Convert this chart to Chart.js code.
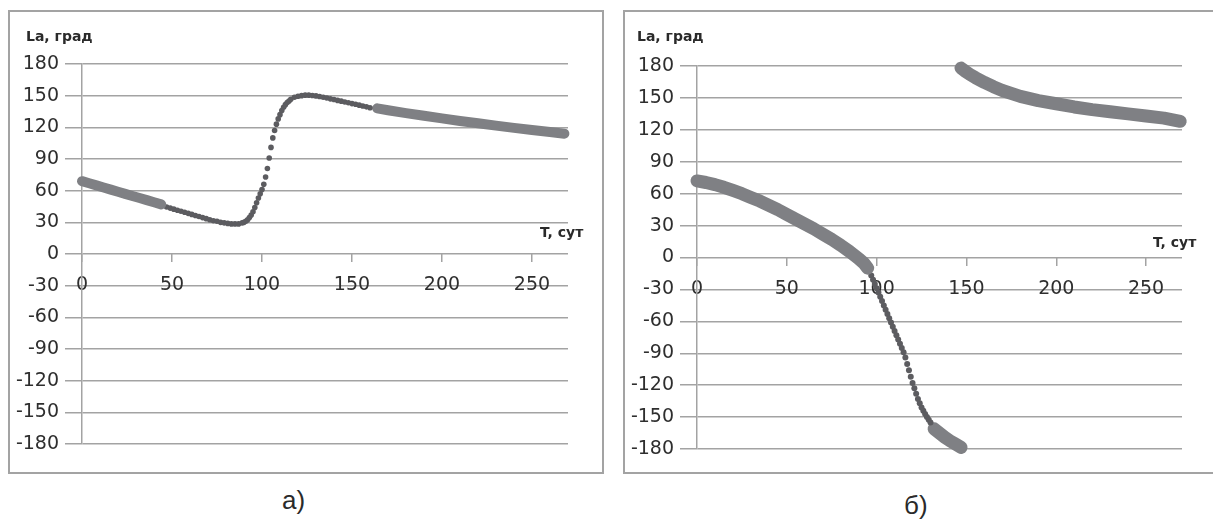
<!DOCTYPE html>
<html>
<head>
<meta charset="utf-8">
<script src="https://cdn.jsdelivr.net/npm/chart.js@4"></script>
<style>
    body { margin: 0; background: #fff; width: 1213px; height: 528px; position: relative; overflow: hidden; }
    .box { position: absolute; border: 2px solid #a3a3a3; box-sizing: border-box; }
    canvas { position: absolute; top: 0; }
    .lbl { position: absolute; font: bold 14px "DejaVu Sans", sans-serif; color: #2a2a2a; white-space: nowrap; }
    .cap { position: absolute; font: 26px "Liberation Sans", sans-serif; color: #2a2a2a; }
</style>
</head>
<body>
<div class="box" style="left:8px; top:10px; width:596px; height:464px;"></div>
<div class="box" style="left:623px; top:10px; width:700px; height:464px;"></div>
<canvas id="chart-a" width="606" height="480" style="left:0"></canvas>
<canvas id="chart-b" width="603" height="480" style="left:610px"></canvas>
<div class="lbl" style="left:26px; top:28px;">La, град</div>
<div class="lbl" style="left:540px; top:224px;">T, сут</div>
<div class="lbl" style="left:637px; top:28px;">La, град</div>
<div class="lbl" style="left:1153px; top:234px;">T, сут</div>
<div class="cap" style="left:282px; top:485px;">а)</div>
<div class="cap" style="left:904px; top:490px;">б)</div>
<script>
// Шкалы
const xTicks = [0, 50, 100, 150, 200, 250];
const yTicks = [-180, -150, -120, -90, -60, -30, 0, 30, 60, 90, 120, 150, 180];

// а) светлый участок в начале
const tA1 = [0, 4, 8, 12, 16, 20, 24, 28, 32, 36, 40, 44];
const laA1 = [69, 67, 65, 63, 61, 59, 57, 55, 53, 51, 49, 47];
// а) тёмный участок (точки)
const tA2 = [47, 49, 51, 53, 55, 57, 59, 61, 63, 65, 67, 69, 71, 73, 75, 77, 79, 81, 83, 85, 87, 89,
    90, 91, 92, 93, 94, 95, 96, 97, 98, 99, 100, 101, 102, 103, 104, 105, 106, 107, 108, 109, 110,
    111, 112, 113, 114, 115, 116, 118, 120, 122, 124, 126, 128, 130, 132, 134, 136, 138, 140, 142,
    144, 146, 148, 150, 152, 154, 156, 158, 160];
const laA2 = [44.5, 43.5, 42.5, 41.5, 40.5, 39.5, 38.5, 37.5, 36.5, 35.5, 34.5, 33.5, 32.5, 31.5, 31, 30, 29.5, 29, 28.5, 28.5, 28.5, 29.5,
    30, 31, 32.5, 34.5, 37, 40, 44, 48.5, 53, 57, 61, 66, 73, 81, 91, 101, 110, 117, 123, 128, 132,
    136, 139, 141.5, 143.5, 145, 146.5, 148.5, 149.5, 150, 150.5, 150.5, 150.2, 149.8, 149.2, 148.5, 147.8, 147, 146.3, 145.5,
    144.8, 144, 143.3, 142.5, 141.8, 141, 140.2, 139.4, 138.6];
// а) светлый участок в конце
const tA3 = [164, 170, 180, 190, 200, 210, 220, 230, 240, 250, 260, 268];
const laA3 = [138, 136.2, 133.5, 131, 128.5, 126, 123.8, 121.6, 119.5, 117.5, 115.5, 114];

// б) светлый участок в начале
const tB1 = [0, 5, 10, 15, 20, 25, 30, 35, 40, 45, 50, 55, 60, 65, 70, 75, 80, 85, 90, 93, 95];
const laB1 = [72, 70.5, 68.5, 66, 63, 60, 56.5, 53, 49, 45, 40.5, 36, 31.5, 27, 22, 17, 11.5, 5.5, -1, -5.5, -10];
// б) тёмный участок (точки)
const tB2 = [97, 98, 99, 100, 101, 102, 103, 104, 105, 106, 107, 108, 109, 110, 111, 112, 113,
    114, 115, 116, 117, 118, 119, 120, 121, 122, 123, 124, 125, 126, 127, 128, 129, 130];
const laB2 = [-17, -21, -25, -29, -33, -37, -41, -45, -49, -53, -57, -61, -65, -69, -73, -77, -81,
    -85, -89, -94, -100, -106, -112, -118, -123, -128, -133, -137, -141, -144, -147, -150, -152.5, -155];
// б) светлый участок у -180
const tB3 = [132, 135, 138, 141, 144, 147];
const laB3 = [-161, -165, -169, -172.5, -175.5, -178.5];
// б) верхняя ветвь
const tB4 = [147, 149, 152, 155, 160, 165, 170, 180, 190, 200, 210, 220, 230, 240, 250, 260, 269];
const laB4 = [178, 175.5, 172, 169, 164.5, 160.5, 157, 151.5, 147.5, 144.5, 141.5, 139, 137, 135, 133, 131, 128];

const light = '#7f8084';
const dark = '#5c5c60';
const gridColor = '#a3a3a3';

function pts(t, la) {
    return t.map((x, i) => ({ x: x, y: la[i] }));
}

function thick(t, la, w) {
    return {
        data: pts(t, la),
        showLine: true,
        borderColor: light,
        borderWidth: w,
        borderCapStyle: 'round',
        borderJoinStyle: 'round',
        pointRadius: 0,
        clip: false
    };
}

function dots(t, la, r) {
    return {
        data: pts(t, la),
        showLine: false,
        backgroundColor: dark,
        borderWidth: 0,
        pointRadius: r,
        clip: false
    };
}

function crearGrafica(id, datasets, yWidth, pad) {
    const ctx = document.getElementById(id).getContext('2d');
    return new Chart(ctx, {
        type: 'scatter',
        data: { datasets: datasets },
        options: {
            responsive: false,
            animation: false,
            layout: { padding: pad },
            plugins: { legend: { display: false }, tooltip: { enabled: false } },
            scales: {
                x: {
                    type: 'linear',
                    position: { y: 0 },
                    min: 0,
                    max: 270,
                    afterBuildTicks: s => { s.ticks = xTicks.map(v => ({ value: v })); },
                    afterFit: s => { s.height = 0; },
                    grid: { drawOnChartArea: false, color: gridColor, lineWidth: 1.5, tickLength: 8 },
                    border: { display: false },
                    ticks: {
                        color: '#2e2e2e',
                        font: { family: 'DejaVu Sans', size: 19 },
                        padding: 12,
                        maxRotation: 0
                    }
                },
                y: {
                    min: -180,
                    max: 180,
                    afterBuildTicks: s => { s.ticks = yTicks.map(v => ({ value: v })); },
                    afterFit: s => { s.width = yWidth; },
                    grid: { color: gridColor, lineWidth: 1.5, tickLength: 17 },
                    border: { color: gridColor, width: 1.5 },
                    ticks: {
                        color: '#2e2e2e',
                        font: { family: 'DejaVu Sans', size: 19 },
                        padding: 6
                    }
                }
            }
        }
    });
}

crearGrafica('chart-a', [
    thick(tA1, laA1, 10),
    dots(tA2, laA2, 2.8),
    thick(tA3, laA3, 10)
], 82, { left: 0, top: 64, right: 38, bottom: 36 });

crearGrafica('chart-b', [
    thick(tB1, laB1, 13),
    dots(tB2, laB2, 3),
    thick(tB3, laB3, 13),
    thick(tB4, laB4, 13)
], 87, { left: 0, top: 66, right: 31, bottom: 31 });
</script>
</body>
</html>
